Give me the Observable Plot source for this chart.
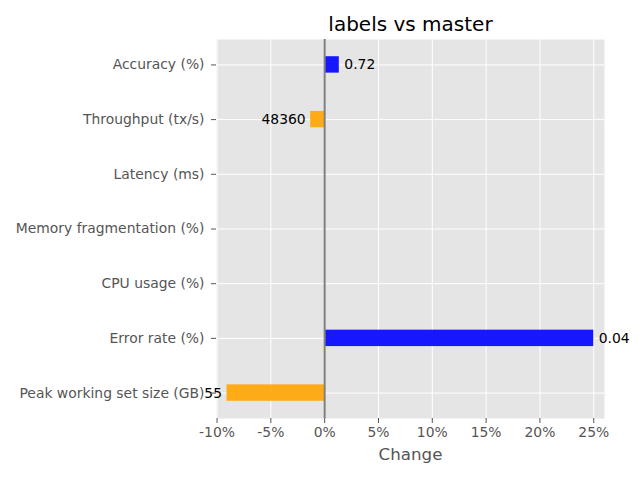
<!DOCTYPE html>
<html>
<head>
<meta charset="utf-8">
<script src="https://cdn.jsdelivr.net/npm/d3@7"></script>
<script src="https://cdn.jsdelivr.net/npm/@observablehq/plot@0.6"></script>
<style>
  html, body { margin: 0; padding: 0; background: white; }
  #chart svg { display: block; }
</style>
</head>
<body>
<div id="chart"></div>
<script>
const categories = [
  "Accuracy (%)",
  "Throughput (tx/s)",
  "Latency (ms)",
  "Memory fragmentation (%)",
  "CPU usage (%)",
  "Error rate (%)",
  "Peak working set size (GB)"
];
const changes = [1.36, -1.3, 0, 0, 0, 25, -9.07];
const valueLabels = ["0.72", "48360", "", "", "", "0.04", "55"];
const xTicks = [-10, -5, 0, 5, 10, 15, 20, 25];
const title = "labels vs master";
const xLabel = "Change";

const data = categories.map((c, i) => ({category: c, change: changes[i], label: valueLabels[i]}));
const pos = data.filter(d => d.change > 0);
const neg = data.filter(d => d.change < 0);

const chart = Plot.plot({
  width: 640,
  height: 480,
  marginLeft: 216,
  marginRight: 36,
  marginTop: 39,
  marginBottom: 62,
  style: {fontFamily: "DejaVu Sans", background: "white"},
  x: {domain: [-10.05, 26], label: null},
  y: {domain: categories, paddingInner: 0.7, paddingOuter: 0.315, round: false, label: null},
  marks: [
    Plot.frame({fill: "#e5e5e5", stroke: null}),
    Plot.gridX(xTicks, {stroke: "white", strokeOpacity: 1, strokeWidth: 1}),
    Plot.gridY(categories, {stroke: "white", strokeOpacity: 1, strokeWidth: 1}),
    Plot.barX(data.filter(d => d.change !== 0), {
      y: "category", x1: 0, x2: "change",
      fill: d => d.change > 0 ? "blue" : "orange",
      fillOpacity: 0.9
    }),
    Plot.ruleX([0], {stroke: "#808080", strokeWidth: 2}),
    Plot.text(pos, {y: "category", x: "change", text: "label", textAnchor: "start", dx: 5, fontSize: 13.9, fill: "black"}),
    Plot.text(neg, {y: "category", x: "change", text: "label", textAnchor: "end", dx: -5, fontSize: 13.9, fill: "black"}),
    Plot.axisX({ticks: xTicks, tickFormat: d => d + "%", tickSize: 5, tickPadding: 4, fontSize: 13.9, color: "#555", label: null}),
    Plot.axisY({tickSize: 5, tickPadding: 7, fontSize: 13.9, color: "#555", label: null}),
    Plot.text([xLabel], {frameAnchor: "bottom", dy: 41, fontSize: 16.7, fill: "#555"}),
    Plot.text([title], {frameAnchor: "top", dy: -23, fontSize: 20, fill: "black"})
  ]
});
document.getElementById("chart").appendChild(chart);
</script>
</body>
</html>
